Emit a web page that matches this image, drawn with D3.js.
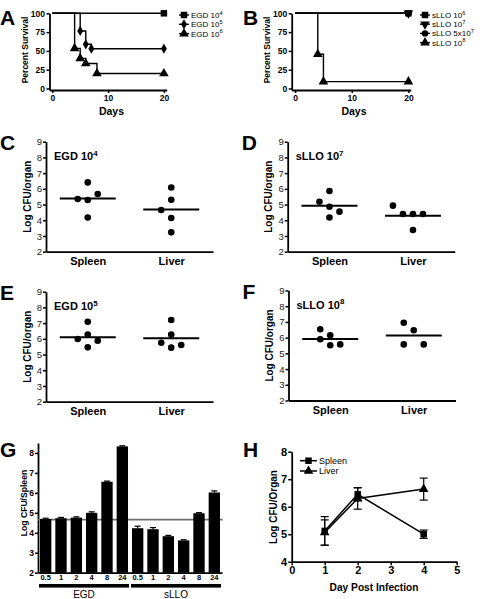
<!DOCTYPE html>
<html><head><meta charset="utf-8">
<script src="https://cdn.jsdelivr.net/npm/d3@7"></script>
<style>body{margin:0;background:#fff}svg{display:block}</style>
</head><body><svg id="c" width="480" height="599"></svg>
<script>
// ---------------- DATA ----------------
// Panel A / B : survival (day, percent)
const survTicksX = [0, 10, 20];
const survTicksY = [0, 25, 50, 75, 100];
const egd1e4 = [[0,100],[20,100]];
const egd1e5 = [[0,100],[5,76.5],[6,58.8],[7,52.9],[20,52.9]];
const egd1e6 = [[0,100],[4,53.3],[5,40],[6,33.3],[8,20],[20,20]];
const egdLegend = [["EGD ","10","4"],["EGD ","10","5"],["EGD ","10","6"]];
const sllo1e6 = [[0,100],[20,100]];
const sllo1e7 = [[0,100],[20,100]];
const sllo5e7 = [[0,100],[20,100]];
const sllo1e8 = [[0,100],[4,45.5],[5,9.1],[20,9.1]];
const slloLegend = [["sLLO ","10","6"],["sLLO ","10","7"],["sLLO 5x","10","7"],["sLLO ","10","8"]];

// Panels C-F : log CFU/organ, [value, column offset]
const organs = ["Spleen", "Liver"];
const logTicks = [2,3,4,5,6,7,8,9];
const cSpleen = [[6.41,0],[5.35,-1],[5.29,0],[5.67,1],[4.18,0]];
const cLiver  = [[6.09,0],[5.31,0],[4.65,-1],[4.14,0],[3.23,0]];
const cMeans  = [5.38, 4.68];
const dSpleen = [[5.86,0],[5.18,-1],[4.86,0],[4.55,1],[4.18,0]];
const dLiver  = [[4.93,-2],[4.40,-1],[4.40,0],[4.40,1],[3.38,0]];
const dMeans  = [4.93, 4.28];
const eSpleen = [[7.09,0],[5.99,-1],[6.28,0],[5.88,1],[5.46,0]];
const eLiver  = [[7.20,0],[6.28,0],[5.75,-1],[5.61,1],[5.44,0]];
const eMeans  = [6.10, 6.03];
const fSpleen = [[6.53,-1],[6.15,0],[5.90,-1],[5.52,0],[5.57,1]];
const fLiver  = [[6.95,-1],[6.47,0],[5.57,-1],[5.57,1]];
const fMeans  = [5.92, 6.13];

// Panel G : log CFU/spleen by hours
const gTimes = ["0.5","1","2","4","8","24"];
const gGroups = ["EGD","sLLO"];
const gEGD = [4.69,4.73,4.76,5.00,6.56,8.33];
const gEGDerr = [0.04,0.04,0.04,0.05,0.03,0.03];
const gSLLO = [4.23,4.18,3.83,3.62,4.98,6.02];
const gSLLOerr = [0.10,0.08,0.04,0.03,0.03,0.08];
const gBaseline = 4.66;
const gTicks = [2,3,4,5,6,7,8];

// Panel H : log CFU/organ over days
const hDays = [1,2,4];
const hSpleen = [5.12,6.45,5.00];
const hSpleenErr = [0.52,0.24,0.15];
const hLiver = [5.06,6.30,6.64];
const hLiverErr = [0.46,0.39,0.40];
const hTicksX = [0,1,2,3,4,5];
const hTicksY = [4,5,6,7,8];

// ---------------- DRAWING ----------------
const FONT = 'Arial, "Liberation Sans", Helvetica, sans-serif';
const svg = d3.select("#c");
const fmt = d => String(d);

function styleAxis(g, size, bold) {
  g.select(".domain").attr("stroke","#000").attr("stroke-width",1.8);
  g.selectAll(".tick line").attr("stroke","#000").attr("stroke-width",1.5);
  g.selectAll("text").attr("font-family",FONT).attr("font-size",size)
    .attr("font-weight",bold?"bold":"normal").attr("fill","#000");
}
function txt(x, y, s, size, weight, anchor, rot) {
  const t = svg.append("text").attr("font-family",FONT).attr("font-size",size)
    .attr("font-weight",weight||"normal").attr("text-anchor",anchor||"start").attr("fill","#000");
  if (rot) t.attr("transform",`translate(${x},${y}) rotate(${rot})`);
  else t.attr("x",x).attr("y",y);
  t.text(s);
  return t;
}
function supText(x, y, parts, size, weight) {
  const t = svg.append("text").attr("x",x).attr("y",y).attr("font-family",FONT)
    .attr("font-size",size).attr("font-weight",weight).attr("fill","#000");
  t.append("tspan").text(parts[0] + parts[1]);
  t.append("tspan").attr("dy",-size*0.42).attr("font-size",size*0.72).text(parts[2]);
  return t;
}
const sym = {
  square: d3.symbol().type(d3.symbolSquare).size(42),
  diamond: d3.symbol().type(d3.symbolDiamond).size(30),
  triangle: d3.symbol().type(d3.symbolTriangle).size(40),
  circle: d3.symbol().type(d3.symbolCircle).size(32),
  down: d3.symbol().type(d3.symbolTriangle).size(40)
};
function marker(x, y, type) {
  svg.append("path").attr("d", sym[type]()).attr("fill","#000")
    .attr("transform",`translate(${x},${y})${type==="down"?" rotate(180)":""}`);
}

// ---- Survival panels ----
function survAxes(x, y) {
  const yAx = svg.append("g").attr("transform",`translate(${x.range()[0]},0)`)
    .call(d3.axisLeft(y).tickValues(survTicksY).tickFormat(fmt).tickSize(3).tickSizeOuter(0).tickPadding(1.5));
  styleAxis(yAx, 8.5, true);
  const xAx = svg.append("g").attr("transform",`translate(0,${y.range()[0]})`)
    .call(d3.axisBottom(x).tickValues(survTicksX).tickFormat(fmt).tickSize(3).tickSizeOuter(0).tickPadding(2));
  styleAxis(xAx, 8.5, true);
}
(function(){
  const x = d3.scaleLinear([-0.5,20.5],[49.5,166.7]);
  const y = d3.scaleLinear([-2,100],[90,13.3]);
  const series = [{data:egd1e4,sym:"square"},{data:egd1e5,sym:"diamond"},{data:egd1e6,sym:"triangle"}];
  survAxes(x, y);
  const line = d3.line().x(d=>x(d[0])).y(d=>y(d[1])).curve(d3.curveStepAfter);
  series.forEach(s => {
    svg.append("path").attr("d", line(s.data)).attr("fill","none").attr("stroke","#000").attr("stroke-width",1.4);
    s.data.slice(1).forEach(d => marker(x(d[0]), y(d[1]), s.sym));
  });
  egdLegend.forEach((l, i) => {
    const yy = 15 + i * 9.3;
    svg.append("line").attr("x1",179).attr("x2",189).attr("y1",yy).attr("y2",yy).attr("stroke","#000").attr("stroke-width",1.4);
    marker(184, yy, series[i].sym);
    supText(191, yy + 3, l, 8, "normal");
  });
  txt(0, 25, "A", 21, "bold");
  txt(28, 50, "Percent Survival", 8.5, "bold", "middle", -90);
  txt(111.5, 115, "Days", 10.5, "bold", "middle");
})();
(function(){
  const x = d3.scaleLinear([-0.6,20.4],[291.7,410.7]);
  const y = d3.scaleLinear([-2,100],[90,13.3]);
  const series = [{data:sllo1e6,sym:"square"},{data:sllo1e7,sym:"down"},{data:sllo5e7,sym:"circle"},{data:sllo1e8,sym:"triangle"}];
  survAxes(x, y);
  const line = d3.line().x(d=>x(d[0])).y(d=>y(d[1])).curve(d3.curveStepAfter);
  // reverse order so the square sits on top at 100%
  series.slice().reverse().forEach(s => {
    svg.append("path").attr("d", line(s.data)).attr("fill","none").attr("stroke","#000").attr("stroke-width",1.4);
    s.data.slice(1).forEach(d => marker(x(d[0]), y(d[1]), s.sym));
  });
  slloLegend.forEach((l, i) => {
    const yy = 15 + i * 9.2;
    svg.append("line").attr("x1",420).attr("x2",430).attr("y1",yy).attr("y2",yy).attr("stroke","#000").attr("stroke-width",1.4);
    marker(425, yy, series[i].sym);
    supText(432, yy + 3, l, 8, "normal");
  });
  txt(243, 25, "B", 21, "bold");
  txt(270, 50, "Percent Survival", 8.5, "bold", "middle", -90);
  txt(354, 115, "Days", 10.5, "bold", "middle");
})();

// ---- Scatter panels ----
function scatter(ox, oy, letter, title, spleen, liver, means) {
  const y = d3.scaleLinear([2,9],[oy+110, oy]);
  const x = d3.scalePoint(organs, [ox, ox+167]).padding(0.5);
  const yAx = svg.append("g").attr("transform",`translate(${ox},0)`)
    .call(d3.axisLeft(y).tickValues(logTicks).tickFormat(fmt).tickSize(3).tickSizeOuter(0).tickPadding(1));
  styleAxis(yAx, 9.5, false);
  yAx.selectAll("text").attr("fill","#222");
  const xAx = svg.append("g").attr("transform",`translate(0,${oy+110})`)
    .call(d3.axisBottom(x).tickSize(0).tickSizeOuter(0).tickPadding(6));
  styleAxis(xAx, 11, true);
  [spleen, liver].forEach((pts, i) => {
    const cx = x(organs[i]);
    pts.forEach(p => svg.append("circle").attr("cx", cx + p[1]*10).attr("cy", y(p[0])).attr("r",3.3).attr("fill","#000"));
    svg.append("line").attr("x1",cx-28).attr("x2",cx+28).attr("y1",y(means[i])).attr("y2",y(means[i]))
      .attr("stroke","#000").attr("stroke-width",2);
  });
  txt(ox-46, oy+8.5, letter, 21, "bold");
  supText(ox+8, oy+18.5, title, 11, "bold");
  txt(ox-15.5, oy+55, "Log CFU/organ", 10, "bold", "middle", -90);
}
scatter(46, 141.7, "C", ["EGD ","10","4"], cSpleen, cLiver, cMeans);
scatter(287.7, 141.7, "D", ["sLLO ","10","7"], dSpleen, dLiver, dMeans);
scatter(46, 291.7, "E", ["EGD ","10","5"], eSpleen, eLiver, eMeans);
scatter(288.5, 290.5, "F", ["sLLO ","10","8"], fSpleen, fLiver, fMeans);

// ---- Panel G ----
(function(){
  const vals = gEGD.concat(gSLLO);
  const errs = gEGDerr.concat(gSLLOerr);
  const labels = gTimes.concat(gTimes);
  const idx = d3.range(vals.length);
  const x = d3.scaleBand(idx, [38, 222]).paddingInner(0.26).paddingOuter(0.13);
  const y = d3.scaleLinear([2, 8.5], [572.7, 443]);
  const yAx = svg.append("g").attr("transform","translate(38,0)")
    .call(d3.axisLeft(y).tickValues(gTicks).tickFormat(fmt).tickSize(3).tickSizeOuter(0).tickPadding(1));
  styleAxis(yAx, 8.5, true);
  const xAx = svg.append("g").attr("transform",`translate(0,${y(2)})`)
    .call(d3.axisBottom(x).tickSize(0).tickSizeOuter(0).tickPadding(2).tickFormat(i => labels[i]));
  styleAxis(xAx, 7.5, true);
  svg.append("line").attr("x1",38).attr("x2",222.7).attr("y1",y(gBaseline)).attr("y2",y(gBaseline))
    .attr("stroke","#707070").attr("stroke-width",1.8);
  idx.forEach(i => {
    const cx = x(i) + x.bandwidth()/2;
    svg.append("line").attr("x1",cx).attr("x2",cx).attr("y1",y(vals[i])).attr("y2",y(vals[i]+errs[i])).attr("stroke","#000").attr("stroke-width",1.2);
    svg.append("line").attr("x1",cx-3).attr("x2",cx+3).attr("y1",y(vals[i]+errs[i])).attr("y2",y(vals[i]+errs[i])).attr("stroke","#000").attr("stroke-width",1.2);
    svg.append("rect").attr("x",x(i)).attr("width",x.bandwidth()).attr("y",y(vals[i])).attr("height",y(2)-y(vals[i])).attr("fill","#000");
  });
  gGroups.forEach((g, k) => {
    const x0 = x(k*6) - 1, x1 = x(k*6+5) + x.bandwidth() + 1;
    svg.append("rect").attr("x",x0).attr("width",x1-x0).attr("y",584).attr("height",3.6).attr("fill","#000");
    txt((x0+x1)/2, 597.5, g, 10, "normal", "middle");
  });
  txt(0, 456.5, "G", 21, "bold");
  txt(26.5, 503, "Log CFU/Spleen", 8.6, "bold", "middle", -90);
})();

// ---- Panel H ----
(function(){
  const x = d3.scaleLinear([0,5],[291.7,456.7]);
  const y = d3.scaleLinear([4,8],[561.7,451.7]);
  const yAx = svg.append("g").attr("transform","translate(291.7,0)")
    .call(d3.axisLeft(y).tickValues(hTicksY).tickFormat(fmt).tickSize(3.5).tickSizeOuter(0).tickPadding(1));
  styleAxis(yAx, 11, true);
  const xAx = svg.append("g").attr("transform","translate(0,561.7)")
    .call(d3.axisBottom(x).tickValues(hTicksX).tickFormat(fmt).tickSize(3.5).tickSizeOuter(0).tickPadding(1.5));
  styleAxis(xAx, 11, true);
  const line = d3.line().x((d,i)=>x(hDays[i])).y(d=>y(d));
  [[hSpleen,hSpleenErr,"square"],[hLiver,hLiverErr,"triangle"]].forEach(([v,e,s]) => {
    svg.append("path").attr("d", line(v)).attr("fill","none").attr("stroke","#000").attr("stroke-width",1.5);
    v.forEach((m,i) => {
      const cx = x(hDays[i]);
      svg.append("line").attr("x1",cx).attr("x2",cx).attr("y1",y(m-e[i])).attr("y2",y(m+e[i])).attr("stroke","#000").attr("stroke-width",1.2);
      [m-e[i], m+e[i]].forEach(b => svg.append("line").attr("x1",cx-4).attr("x2",cx+4).attr("y1",y(b)).attr("y2",y(b)).attr("stroke","#000").attr("stroke-width",1.2));
      marker(cx, y(m), s);
    });
  });
  [["Spleen","square"],["Liver","triangle"]].forEach(([n,s],i) => {
    const yy = 460.7 + i*10.3;
    svg.append("line").attr("x1",300).attr("x2",317).attr("y1",yy).attr("y2",yy).attr("stroke","#000").attr("stroke-width",1.5);
    marker(308.5, yy, s);
    txt(319, yy+3.2, n, 9, "normal");
  });
  txt(243, 456.5, "H", 21, "bold");
  txt(276.5, 507, "Log CFU/Organ", 10, "bold", "middle", -90);
  txt(374, 591, "Day Post Infection", 10.2, "bold", "middle");
})();
</script></body></html>
